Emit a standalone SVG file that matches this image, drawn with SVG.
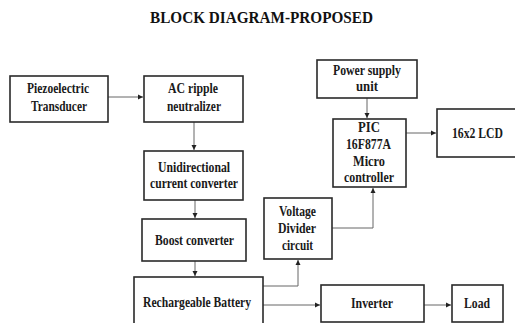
<svg xmlns="http://www.w3.org/2000/svg" width="515" height="323" viewBox="0 0 515 323">
<defs>
<style>
.box{fill:#fff;stroke:#2a2a2a;stroke-width:1.6}
.t{font-family:"Liberation Serif","Times New Roman",serif;font-weight:bold;font-size:14px;fill:#1a1a1a;text-anchor:middle}
.title{font-family:"Liberation Serif","Times New Roman",serif;font-weight:bold;font-size:17px;fill:#111;text-anchor:middle}
.c{fill:none;stroke:#666;stroke-width:1}
</style>
<marker id="ah" markerWidth="6" markerHeight="6" refX="5" refY="3" orient="auto" markerUnits="userSpaceOnUse">
<path d="M0,0.5 L5,3 L0,5.5 Z" fill="#222"/>
</marker>
</defs>
<rect width="515" height="323" fill="#fff"/>
<text class="title" x="261.5" y="23" textLength="223" lengthAdjust="spacingAndGlyphs">BLOCK DIAGRAM-PROPOSED</text>

<g id="connectors">
<path class="c" d="M108,97 H143" marker-end="url(#ah)"/>
<path class="c" d="M194,122 V150" marker-end="url(#ah)"/>
<path class="c" d="M195,200 V218" marker-end="url(#ah)"/>
<path class="c" d="M195,261 V276" marker-end="url(#ah)"/>
<path class="c" d="M263,286 H298 V260" marker-end="url(#ah)"/>
<path class="c" d="M332,228 H373 V188" marker-end="url(#ah)"/>
<path class="c" d="M367,98 V118" marker-end="url(#ah)"/>
<path class="c" d="M406,133 H436" marker-end="url(#ah)"/>
<path class="c" d="M263,305 H320" marker-end="url(#ah)"/>
<path class="c" d="M424,305 H451" marker-end="url(#ah)"/>
</g>

<g id="piezo">
<rect class="box" x="10" y="76" width="98" height="46"/>
<text class="t" x="58" y="93" textLength="62" lengthAdjust="spacingAndGlyphs">Piezoelectric</text>
<text class="t" x="59" y="111" textLength="56" lengthAdjust="spacingAndGlyphs">Transducer</text>
</g>
<g id="acripple">
<rect class="box" x="144" y="76" width="99" height="46"/>
<text class="t" x="193" y="93" textLength="50" lengthAdjust="spacingAndGlyphs">AC ripple</text>
<text class="t" x="194" y="111" textLength="54" lengthAdjust="spacingAndGlyphs">neutralizer</text>
</g>
<g id="uni">
<rect class="box" x="144" y="151" width="99" height="49"/>
<text class="t" x="194" y="172" textLength="72" lengthAdjust="spacingAndGlyphs">Unidirectional</text>
<text class="t" x="194" y="188" textLength="88" lengthAdjust="spacingAndGlyphs">current converter</text>
</g>
<g id="boost">
<rect class="box" x="142" y="219" width="104" height="42"/>
<text class="t" x="194.5" y="245" textLength="79" lengthAdjust="spacingAndGlyphs">Boost converter</text>
</g>
<g id="battery">
<rect class="box" x="134" y="277" width="129" height="60"/>
<text class="t" x="197" y="307" textLength="108" lengthAdjust="spacingAndGlyphs">Rechargeable Battery</text>
</g>
<g id="vdivider">
<rect class="box" x="264" y="198" width="68" height="61"/>
<text class="t" x="297.5" y="216" textLength="37" lengthAdjust="spacingAndGlyphs">Voltage</text>
<text class="t" x="297" y="233" textLength="38" lengthAdjust="spacingAndGlyphs">Divider</text>
<text class="t" x="297.5" y="250" textLength="31" lengthAdjust="spacingAndGlyphs">circuit</text>
</g>
<g id="psu">
<rect class="box" x="317" y="60" width="100" height="38"/>
<text class="t" x="367" y="75" textLength="68" lengthAdjust="spacingAndGlyphs">Power supply</text>
<text class="t" x="367" y="91" textLength="22" lengthAdjust="spacingAndGlyphs">unit</text>
</g>
<g id="pic">
<rect class="box" x="333" y="119" width="73" height="68"/>
<text class="t" x="369" y="132" textLength="22" lengthAdjust="spacingAndGlyphs">PIC</text>
<text class="t" x="368.5" y="149" textLength="45" lengthAdjust="spacingAndGlyphs">16F877A</text>
<text class="t" x="369" y="166" textLength="32" lengthAdjust="spacingAndGlyphs">Micro</text>
<text class="t" x="369" y="182" textLength="50" lengthAdjust="spacingAndGlyphs">controller</text>
</g>
<g id="lcd">
<rect class="box" x="437" y="109" width="90" height="48"/>
<text class="t" x="477.5" y="138" textLength="51" lengthAdjust="spacingAndGlyphs">16x2 LCD</text>
</g>
<g id="inverter">
<rect class="box" x="321" y="285" width="103" height="37"/>
<text class="t" x="372" y="308" textLength="42" lengthAdjust="spacingAndGlyphs">Inverter</text>
</g>
<g id="load">
<rect class="box" x="452" y="285" width="51" height="37"/>
<text class="t" x="477" y="308" textLength="26" lengthAdjust="spacingAndGlyphs">Load</text>
</g>
</svg>
